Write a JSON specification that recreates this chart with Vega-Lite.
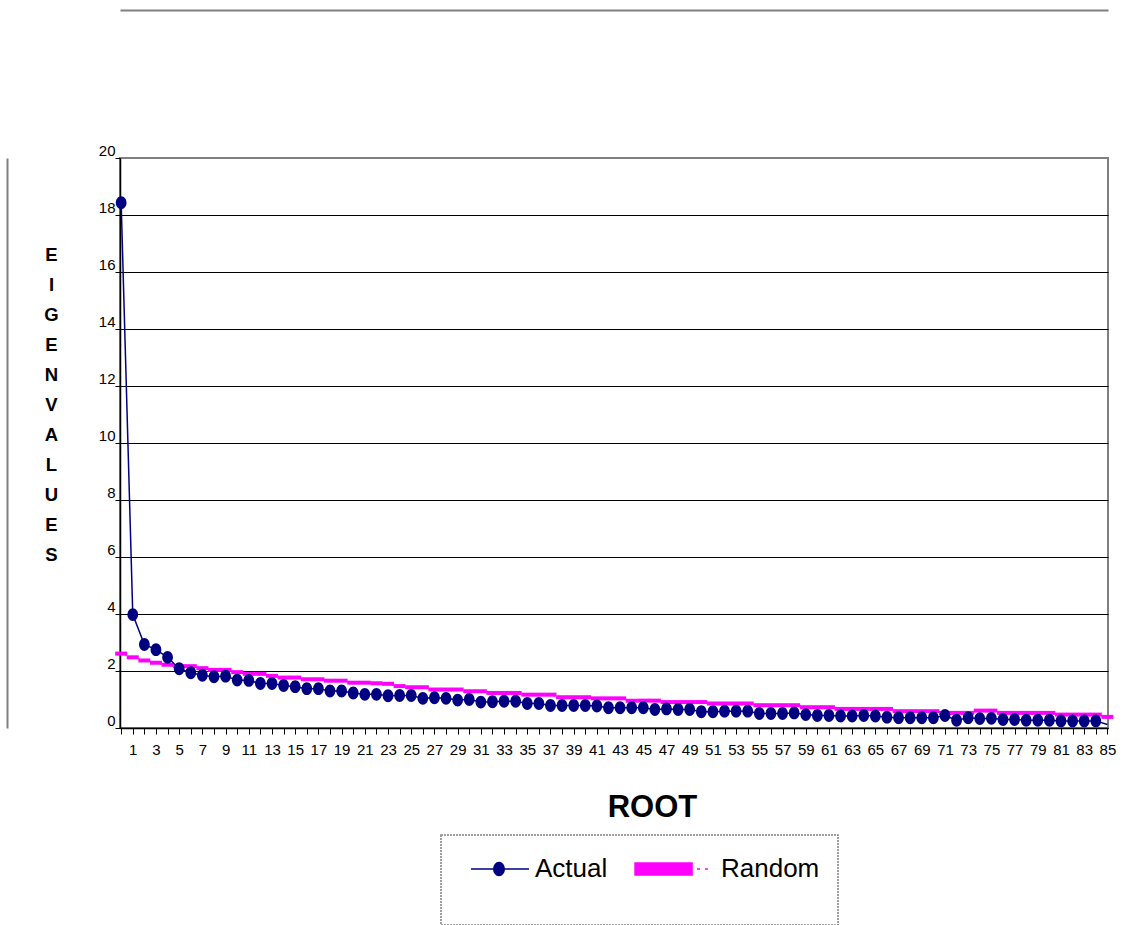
{
  "$schema": "https://vega.github.io/schema/vega-lite/v6.json",
  "width": 988,
  "height": 570,
  "autosize": {"type": "none"},
  "padding": {"left": 120, "top": 158, "right": 21, "bottom": 197},
  "background": "white",
  "config": {
    "font": "Liberation Sans",
    "view": {"stroke": "#808080", "strokeWidth": 2},
    "axis": {"labelFont": "Liberation Sans", "titleFont": "Liberation Sans", "labelColor": "#000", "titleColor": "#000"},
    "legend": {"strokeDash": [2, 1], "strokeWidth": 1.5}
  },
  "data": {
    "values": [
      {"n": 0, "series": "Actual", "value": 18.43}, {"n": 1, "series": "Actual", "value": 3.98}, {"n": 2, "series": "Actual", "value": 2.93}, {"n": 3, "series": "Actual", "value": 2.75}, {"n": 4, "series": "Actual", "value": 2.48}, {"n": 5, "series": "Actual", "value": 2.08}, {"n": 6, "series": "Actual", "value": 1.94}, {"n": 7, "series": "Actual", "value": 1.85}, {"n": 8, "series": "Actual", "value": 1.8}, {"n": 9, "series": "Actual", "value": 1.82},
      {"n": 10, "series": "Actual", "value": 1.68}, {"n": 11, "series": "Actual", "value": 1.67}, {"n": 12, "series": "Actual", "value": 1.56}, {"n": 13, "series": "Actual", "value": 1.56}, {"n": 14, "series": "Actual", "value": 1.49}, {"n": 15, "series": "Actual", "value": 1.45}, {"n": 16, "series": "Actual", "value": 1.38}, {"n": 17, "series": "Actual", "value": 1.38}, {"n": 18, "series": "Actual", "value": 1.3}, {"n": 19, "series": "Actual", "value": 1.3},
      {"n": 20, "series": "Actual", "value": 1.23}, {"n": 21, "series": "Actual", "value": 1.18}, {"n": 22, "series": "Actual", "value": 1.18}, {"n": 23, "series": "Actual", "value": 1.13}, {"n": 24, "series": "Actual", "value": 1.14}, {"n": 25, "series": "Actual", "value": 1.14}, {"n": 26, "series": "Actual", "value": 1.04}, {"n": 27, "series": "Actual", "value": 1.06}, {"n": 28, "series": "Actual", "value": 1.04}, {"n": 29, "series": "Actual", "value": 0.98},
      {"n": 30, "series": "Actual", "value": 1.0}, {"n": 31, "series": "Actual", "value": 0.91}, {"n": 32, "series": "Actual", "value": 0.92}, {"n": 33, "series": "Actual", "value": 0.94}, {"n": 34, "series": "Actual", "value": 0.94}, {"n": 35, "series": "Actual", "value": 0.86}, {"n": 36, "series": "Actual", "value": 0.86}, {"n": 37, "series": "Actual", "value": 0.79}, {"n": 38, "series": "Actual", "value": 0.79}, {"n": 39, "series": "Actual", "value": 0.79},
      {"n": 40, "series": "Actual", "value": 0.79}, {"n": 41, "series": "Actual", "value": 0.77}, {"n": 42, "series": "Actual", "value": 0.71}, {"n": 43, "series": "Actual", "value": 0.71}, {"n": 44, "series": "Actual", "value": 0.71}, {"n": 45, "series": "Actual", "value": 0.71}, {"n": 46, "series": "Actual", "value": 0.65}, {"n": 47, "series": "Actual", "value": 0.67}, {"n": 48, "series": "Actual", "value": 0.65}, {"n": 49, "series": "Actual", "value": 0.65},
      {"n": 50, "series": "Actual", "value": 0.57}, {"n": 51, "series": "Actual", "value": 0.57}, {"n": 52, "series": "Actual", "value": 0.59}, {"n": 53, "series": "Actual", "value": 0.59}, {"n": 54, "series": "Actual", "value": 0.59}, {"n": 55, "series": "Actual", "value": 0.51}, {"n": 56, "series": "Actual", "value": 0.51}, {"n": 57, "series": "Actual", "value": 0.51}, {"n": 58, "series": "Actual", "value": 0.53}, {"n": 59, "series": "Actual", "value": 0.47},
      {"n": 60, "series": "Actual", "value": 0.44}, {"n": 61, "series": "Actual", "value": 0.44}, {"n": 62, "series": "Actual", "value": 0.42}, {"n": 63, "series": "Actual", "value": 0.42}, {"n": 64, "series": "Actual", "value": 0.44}, {"n": 65, "series": "Actual", "value": 0.42}, {"n": 66, "series": "Actual", "value": 0.38}, {"n": 67, "series": "Actual", "value": 0.36}, {"n": 68, "series": "Actual", "value": 0.36}, {"n": 69, "series": "Actual", "value": 0.36},
      {"n": 70, "series": "Actual", "value": 0.36}, {"n": 71, "series": "Actual", "value": 0.44}, {"n": 72, "series": "Actual", "value": 0.27}, {"n": 73, "series": "Actual", "value": 0.36}, {"n": 74, "series": "Actual", "value": 0.33}, {"n": 75, "series": "Actual", "value": 0.34}, {"n": 76, "series": "Actual", "value": 0.3}, {"n": 77, "series": "Actual", "value": 0.3}, {"n": 78, "series": "Actual", "value": 0.27}, {"n": 79, "series": "Actual", "value": 0.27},
      {"n": 80, "series": "Actual", "value": 0.27}, {"n": 81, "series": "Actual", "value": 0.25}, {"n": 82, "series": "Actual", "value": 0.25}, {"n": 83, "series": "Actual", "value": 0.25}, {"n": 84, "series": "Actual", "value": 0.25}, {"n": 85, "series": "Actual", "value": 0.12},
      {"n": 0, "series": "Random", "value": 2.61}, {"n": 1, "series": "Random", "value": 2.48}, {"n": 2, "series": "Random", "value": 2.37}, {"n": 3, "series": "Random", "value": 2.29}, {"n": 4, "series": "Random", "value": 2.22}, {"n": 5, "series": "Random", "value": 2.17}, {"n": 6, "series": "Random", "value": 2.17}, {"n": 7, "series": "Random", "value": 2.1}, {"n": 8, "series": "Random", "value": 2.04}, {"n": 9, "series": "Random", "value": 2.04},
      {"n": 10, "series": "Random", "value": 1.96}, {"n": 11, "series": "Random", "value": 1.9}, {"n": 12, "series": "Random", "value": 1.9}, {"n": 13, "series": "Random", "value": 1.83}, {"n": 14, "series": "Random", "value": 1.77}, {"n": 15, "series": "Random", "value": 1.77}, {"n": 16, "series": "Random", "value": 1.71}, {"n": 17, "series": "Random", "value": 1.71}, {"n": 18, "series": "Random", "value": 1.66}, {"n": 19, "series": "Random", "value": 1.66},
      {"n": 20, "series": "Random", "value": 1.59}, {"n": 21, "series": "Random", "value": 1.59}, {"n": 22, "series": "Random", "value": 1.57}, {"n": 23, "series": "Random", "value": 1.55}, {"n": 24, "series": "Random", "value": 1.47}, {"n": 25, "series": "Random", "value": 1.43}, {"n": 26, "series": "Random", "value": 1.43}, {"n": 27, "series": "Random", "value": 1.35}, {"n": 28, "series": "Random", "value": 1.35}, {"n": 29, "series": "Random", "value": 1.35},
      {"n": 30, "series": "Random", "value": 1.29}, {"n": 31, "series": "Random", "value": 1.29}, {"n": 32, "series": "Random", "value": 1.23}, {"n": 33, "series": "Random", "value": 1.23}, {"n": 34, "series": "Random", "value": 1.23}, {"n": 35, "series": "Random", "value": 1.17}, {"n": 36, "series": "Random", "value": 1.17}, {"n": 37, "series": "Random", "value": 1.17}, {"n": 38, "series": "Random", "value": 1.08}, {"n": 39, "series": "Random", "value": 1.08},
      {"n": 40, "series": "Random", "value": 1.08}, {"n": 41, "series": "Random", "value": 1.04}, {"n": 42, "series": "Random", "value": 1.04}, {"n": 43, "series": "Random", "value": 1.04}, {"n": 44, "series": "Random", "value": 0.96}, {"n": 45, "series": "Random", "value": 0.96}, {"n": 46, "series": "Random", "value": 0.96}, {"n": 47, "series": "Random", "value": 0.91}, {"n": 48, "series": "Random", "value": 0.91}, {"n": 49, "series": "Random", "value": 0.91},
      {"n": 50, "series": "Random", "value": 0.91}, {"n": 51, "series": "Random", "value": 0.86}, {"n": 52, "series": "Random", "value": 0.86}, {"n": 53, "series": "Random", "value": 0.86}, {"n": 54, "series": "Random", "value": 0.86}, {"n": 55, "series": "Random", "value": 0.8}, {"n": 56, "series": "Random", "value": 0.8}, {"n": 57, "series": "Random", "value": 0.8}, {"n": 58, "series": "Random", "value": 0.8}, {"n": 59, "series": "Random", "value": 0.73},
      {"n": 60, "series": "Random", "value": 0.73}, {"n": 61, "series": "Random", "value": 0.73}, {"n": 62, "series": "Random", "value": 0.67}, {"n": 63, "series": "Random", "value": 0.67}, {"n": 64, "series": "Random", "value": 0.67}, {"n": 65, "series": "Random", "value": 0.67}, {"n": 66, "series": "Random", "value": 0.67}, {"n": 67, "series": "Random", "value": 0.59}, {"n": 68, "series": "Random", "value": 0.59}, {"n": 69, "series": "Random", "value": 0.59},
      {"n": 70, "series": "Random", "value": 0.59}, {"n": 71, "series": "Random", "value": 0.53}, {"n": 72, "series": "Random", "value": 0.53}, {"n": 73, "series": "Random", "value": 0.53}, {"n": 74, "series": "Random", "value": 0.61}, {"n": 75, "series": "Random", "value": 0.61}, {"n": 76, "series": "Random", "value": 0.53}, {"n": 77, "series": "Random", "value": 0.53}, {"n": 78, "series": "Random", "value": 0.53}, {"n": 79, "series": "Random", "value": 0.53},
      {"n": 80, "series": "Random", "value": 0.53}, {"n": 81, "series": "Random", "value": 0.47}, {"n": 82, "series": "Random", "value": 0.47}, {"n": 83, "series": "Random", "value": 0.47}, {"n": 84, "series": "Random", "value": 0.47}, {"n": 85, "series": "Random", "value": 0.39}
    ]
  },
  "resolve": {"axis": {"x": "independent", "y": "independent"}},
  "encoding": {
    "x": {"field": "n", "type": "quantitative", "scale": {"domain": [-0.1, 85.05], "nice": false, "zero": false}, "axis": null},
    "y": {"field": "value", "type": "quantitative", "scale": {"domain": [0, 20], "nice": false}, "axis": null},
    "color": {
      "field": "series",
      "type": "nominal",
      "scale": {"domain": ["Actual", "Random"], "range": ["#000080", "#FF00FF"]},
      "legend": {
        "orient": "none",
        "legendX": 321,
        "legendY": 677,
        "direction": "horizontal",
        "title": "\u00a0\u00a0\u00a0\u00a0\u00a0\u00a0\u00a0\u00a0\u00a0\u00a0\u00a0\u00a0\u00a0\u00a0\u00a0\u00a0\u00a0\u00a0\u00a0\u00a0\u00a0\u00a0\u00a0\u00a0\u00a0\u00a0\u00a0\u00a0\u00a0\u00a0\u00a0\u00a0\u00a0\u00a0\u00a0\u00a0\u00a0\u00a0\u00a0\u00a0\u00a0\u00a0\u00a0\u00a0\u00a0\u00a0\u00a0\u00a0\u00a0\u00a0\u00a0\u00a0\u00a0\u00a0\u00a0\u00a0\u00a0\u00a0\u00a0\u00a0\u00a0\u00a0\u00a0\u00a0\u00a0\u00a0\u00a0\u00a0\u00a0\u00a0\u00a0\u00a0\u00a0\u00a0\u00a0\u00a0\u00a0\u00a0\u00a0\u00a0\u00a0\u00a0\u00a0\u00a0\u00a0\u00a0\u00a0\u00a0\u00a0\u00a0\u00a0\u00a0\u00a0\u00a0\u00a0\u00a0\u00a0\u00a0\u00a0\u00a0\u00a0\u00a0\u00a0\u00a0\u00a0\u00a0\u00a0\u00a0",
        "titleOrient": "bottom",
        "titleFontSize": 12,
        "titlePadding": 14,
        "titleColor": "#ffffff",
        "titleLimit": 0,
        "padding": 18,
        "strokeColor": "#808080",
        "fillColor": "#ffffff",
        "labelFont": "Liberation Sans",
        "labelFontSize": 26,
        "labelColor": "#000000",
        "labelOffset": 44,
        "labelLimit": 0,
        "symbolSize": 900,
        "symbolStrokeWidth": 1.5,
        "columnPadding": 24,
        "encode": {
          "symbols": {
            "update": {
              "shape": {"signal": "datum.value === 'Actual' ? 'M-0.27,0L3.6,0M1.95,0A0.35,0.43,0,1,1,1.25,0A0.35,0.43,0,1,1,1.95,0Z' : 'M-1.73,-0.4L2.07,-0.4L2.07,0.4L-1.73,0.4ZM2.4,0L2.6,0M2.93,0L3.13,0'"},
              "fill": {"signal": "datum.value === 'Actual' ? '#000080' : '#FF00FF'"},
              "stroke": {"signal": "datum.value === 'Actual' ? '#000080' : '#FF00FF'"},
              "strokeWidth": {"value": 1.5},
              "opacity": {"value": 1}
            }
          }
        }
      }
    }
  },
  "layer": [
    {
      "transform": [{"filter": "datum.series == 'Random'"}],
      "mark": {"type": "line", "strokeWidth": 1.5, "strokeDash": [1.5, 3]},
      "encoding": {
        "x": {
          "field": "n", "type": "quantitative",
          "scale": {"domain": [-0.1, 85.05], "nice": false, "zero": false},
          "axis": {
            "values": [0,1,2,3,4,5,6,7,8,9,10,11,12,13,14,15,16,17,18,19,20,21,22,23,24,25,26,27,28,29,30,31,32,33,34,35,36,37,38,39,40,41,42,43,44,45,46,47,48,49,50,51,52,53,54,55,56,57,58,59,60,61,62,63,64,65,66,67,68,69,70,71,72,73,74,75,76,77,78,79,80,81,82,83,84,85],
            "grid": false,
            "tickSize": 6,
            "tickColor": "#000000",
            "domainColor": "#000000",
            "domainWidth": 1.5,
            "labelFontSize": 15,
            "labelPadding": 8,
            "labelAngle": 0,
            "labelFlush": false,
            "labelOverlap": false,
            "labelExpr": "datum.value % 2 == 1 ? datum.label : ''",
            "title": "ROOT",
            "titleFontSize": 31,
            "titleFontWeight": "bold",
            "titleX": 532,
            "titleY": 88,
            "titleAlign": "center",
            "titleBaseline": "alphabetic"
          }
        },
        "y": {
          "field": "value", "type": "quantitative",
          "scale": {"domain": [0, 20], "nice": false},
          "axis": {
            "values": [0, 2, 4, 6, 8, 10, 12, 14, 16, 18, 20],
            "grid": true,
            "gridColor": {"condition": {"test": "datum.value == 20", "value": "#808080"}, "value": "#000000"},
            "gridWidth": 1,
            "tickSize": 5,
            "tickColor": "#000000",
            "domainColor": "#000000",
            "domainWidth": 1.5,
            "labelFontSize": 15,
            "labelPadding": 0,
            "labelOffset": -8,
            "title": ["E", "I", "G", "E", "N", "V", "A", "L", "U", "E", "S"],
            "titleFontSize": 18.5,
            "titleFontWeight": "bold",
            "titleAngle": 0,
            "titleLineHeight": 30,
            "titleX": -69,
            "titleY": 102,
            "titleAlign": "center",
            "titleBaseline": "alphabetic"
          }
        }
      }
    },
    {
      "transform": [{"filter": "datum.series == 'Random'"}],
      "mark": {"type": "tick", "orient": "horizontal", "size": 12, "thickness": 4, "opacity": 1},
      "encoding": {
        "x": {
          "field": "n", "type": "quantitative",
          "scale": {"domain": [-0.1, 85.05], "nice": false, "zero": false},
          "axis": {"orient": "top", "offset": 148, "grid": false, "ticks": false, "labels": false, "title": null, "domainColor": "#808080", "domainWidth": 2}
        },
        "y": {
          "field": "value", "type": "quantitative",
          "scale": {"domain": [0, 20], "nice": false},
          "axis": {"orient": "left", "offset": 113, "grid": false, "ticks": false, "labels": false, "title": null, "domainColor": "#808080", "domainWidth": 2}
        }
      }
    },
    {
      "transform": [{"filter": "datum.series == 'Actual'"}],
      "mark": {"type": "line", "strokeWidth": 1.5}
    },
    {
      "transform": [{"filter": "datum.series == 'Actual' && datum.n <= 84"}],
      "mark": {"type": "point", "filled": true, "opacity": 1, "size": 115, "shape": "M1,0A1,1.2,0,1,1,-1,0A1,1.2,0,1,1,1,0Z"}
    }
  ]
}
